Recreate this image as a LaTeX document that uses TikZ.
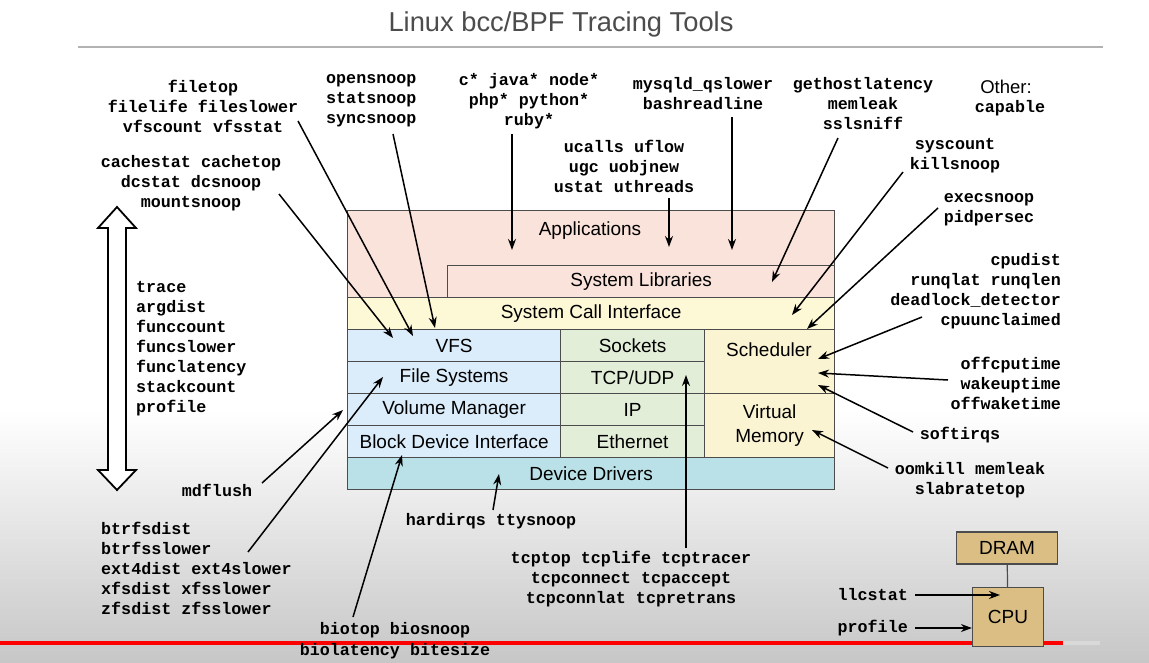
\documentclass[tikz,border=0pt]{standalone}
\usepackage{fontspec}
\setmainfont{Liberation Sans}
\newfontfamily\toolfont{Liberation Mono}
\usetikzlibrary{arrows.meta}

\definecolor{appcol}{RGB}{250,227,219}
\definecolor{sccol}{RGB}{253,248,214}
\definecolor{fscol}{RGB}{219,236,250}
\definecolor{netcol}{RGB}{227,238,217}
\definecolor{schedcol}{RGB}{251,244,211}
\definecolor{drvcol}{RGB}{186,225,231}
\definecolor{hwcol}{RGB}{218,190,131}

\tikzset{
  layer/.style={draw=black!70, line width=1.2pt, inner sep=0pt, anchor=north west,
    font=\fontsize{19}{24}\selectfont},
  txt/.style={font=\fontsize{19}{24}\selectfont, align=center, inner sep=0pt},
  tool/.style={font=\toolfont\bfseries\fontsize{16.7}{20}\selectfont, inner sep=0pt},
  probe/.style={-{Stealth[length=11pt,width=8pt]}, line width=1.5pt},
}

\begin{document}
\begin{tikzpicture}[x=1pt,y=-1pt]
\useasboundingbox (0,0) rectangle (1149,662);

% screen
\fill[white] (0,0) rectangle (1149,662);
\shade[top color=white, bottom color=black!22] (0,410) rectangle (1149,662);
\draw[red, line width=3.5pt] (0,643) -- (1063,643);
\draw[black!15, line width=3.5pt] (1063,643) -- (1100,643);

% title
\node[font=\fontsize{27.3}{30}\selectfont, text=black!70, inner sep=0pt] (title) at (561,24) {Linux bcc/BPF Tracing Tools};
\draw[black!30, line width=1.2pt] (78,47) -- (1103,47);

% kernel stack
\node[layer, fill=appcol, minimum width=487, minimum height=87] (apps) at (347,210) {};
\node[layer, fill=appcol, minimum width=387, minimum height=32] (syslib) at (447,265) {System Libraries};
\node[layer, fill=sccol, minimum width=487, minimum height=32] (syscall) at (347,297) {System Call Interface};
\foreach \n/\t [count=\i from 0] in {vfs/VFS, fsys/File Systems, vol/Volume Manager, bdi/Block Device Interface}
  \node[layer, fill=fscol, minimum width=213, minimum height=32] (\n) at (347,329+32*\i) {\t};
\foreach \n/\t [count=\i from 0] in {sock/Sockets, tcpudp/{TCP/UDP}, ip/IP, eth/Ethernet}
  \node[layer, fill=netcol, minimum width=144, minimum height=32] (\n) at (560,329+32*\i) {\t};
\node[layer, fill=schedcol, minimum width=130, minimum height=64] (sched) at (704,329) {};
\node[layer, fill=schedcol, minimum width=130, minimum height=64, align=center] (vmem) at (704,393) {Virtual\\Memory};
\node[layer, fill=drvcol, minimum width=487, minimum height=32] (drv) at (347,457) {Device Drivers};
\node[txt] (appstxt) at (590,231) {Applications};
\node[txt] (schedtxt) at (769,350) {Scheduler};

% hardware
\node[layer, fill=hwcol, anchor=center, minimum width=101, minimum height=32] (dram) at (1007,548) {DRAM};
\node[layer, fill=hwcol, anchor=center, minimum width=71, minimum height=59] (cpu) at (1008,617) {CPU};
\draw[black!70, line width=1.2pt] (dram) -- (cpu);

% tool labels
\node[tool, align=center] (ftop) at (203,106) {filetop\\filelife fileslower\\vfscount vfsstat};
\node[tool, align=center] (cstat) at (191,183) {cachestat cachetop\\dcstat dcsnoop\\mountsnoop};
\node[tool, align=left, anchor=west] (osnoop) at (326,101) {opensnoop\\statsnoop\\syncsnoop};
\node[tool, align=center] (lang) at (529,101) {c* java* node*\\php* python*\\ruby*};
\node[tool, align=center] (mysql) at (703,94) {mysqld\_qslower\\bashreadline};
\node[tool, align=center] (ghost) at (863,104) {gethostlatency\\memleak\\sslsniff};
\node[txt, font=\fontsize{18.5}{22}\selectfont] (other) at (1006,87) {Other:};
\node[tool] (cap) at (1010,108) {capable};
\node[tool, align=center] (ucalls) at (624,166) {ucalls uflow\\ugc uobjnew\\ustat uthreads};
\node[tool, align=center] (sysc) at (955,156) {syscount\\killsnoop};
\node[tool, align=center] (exec) at (989,210) {execsnoop\\pidpersec};
\node[tool, align=right, anchor=east] (cpud) at (1061,291) {cpudist\\runqlat runqlen\\deadlock\_detector\\cpuunclaimed};
\node[tool, align=right, anchor=east] (offcpu) at (1061,383) {offcputime\\wakeuptime\\offwaketime};
\node[tool] (sirq) at (960,435) {softirqs};
\node[tool, align=center] (oom) at (970,480) {oomkill memleak\\slabratetop};
\node[tool, align=left, anchor=west] (trace) at (136,349) {trace\\argdist\\funccount\\funcslower\\funclatency\\stackcount\\profile};
\node[tool] (mdf) at (217,490) {mdflush};
\node[tool, align=left, anchor=west] (btrfs) at (101,568) {btrfsdist\\btrfsslower\\ext4dist ext4slower\\xfsdist xfsslower\\zfsdist zfsslower};
\node[tool] (hirq) at (491,521) {hardirqs ttysnoop};
\node[tool, align=center] (tcp) at (631,579) {tcptop tcplife tcptracer\\tcpconnect tcpaccept\\tcpconnlat tcpretrans};
\node[tool, align=center] (bio) at (395,641) {biotop biosnoop\\[1pt]biolatency bitesize};
\node[tool, anchor=east] (llc) at (908,595) {llcstat};
\node[tool, anchor=east] (prof) at (908,628) {profile};

% tracing span
\draw[line width=1.8pt, fill=white] (117,207) -- (136,228) -- (126,228) -- (126,470) -- (136,470)
  -- (117,490) -- (98,470) -- (108,470) -- (108,228) -- (98,228) -- cycle;

% probe points
\coordinate (cstatS) at (279,194);  \coordinate (vfsA) at (393,338);
\coordinate (ftopS) at (298,121);   \coordinate (vfsB) at (413,336);
\coordinate (osnoopS) at (393,134); \coordinate (vfsC) at (435,328);
\coordinate (langS) at (512,134);   \coordinate (appA) at (512,250);
\coordinate (ucallsS) at (669,198); \coordinate (appB) at (669,247);
\coordinate (mysqlS) at (732,117);  \coordinate (appC) at (732,250);
\coordinate (ghostS) at (838,138);  \coordinate (libA) at (772,282);
\coordinate (syscS) at (903,172);   \coordinate (scA) at (792,315);
\coordinate (execS) at (938,208);   \coordinate (scB) at (807,329);
\coordinate (cpudS) at (922,317);   \coordinate (schA) at (818,359);
\coordinate (offcpuS) at (948,380); \coordinate (schB) at (818,373);
\coordinate (sirqS) at (913,432);   \coordinate (schC) at (818,385);
\coordinate (oomS) at (888,468);    \coordinate (vmA) at (812,430);
\coordinate (tcpS) at (686,548);    \coordinate (tcpA) at (686,375);
\coordinate (hirqS) at (493,510);   \coordinate (drvA) at (499,474);
\coordinate (bioS) at (353,617);    \coordinate (bdiA) at (402,455);
\coordinate (btrfsS) at (248,552);  \coordinate (fsysA) at (383,377);
\coordinate (mdfS) at (262,483);    \coordinate (volA) at (343,410);
\coordinate (cpuA) at (1000,596);

\foreach \s/\e in {cstatS/vfsA, ftopS/vfsB, osnoopS/vfsC, langS/appA, ucallsS/appB,
    mysqlS/appC, ghostS/libA, syscS/scA, execS/scB, cpudS/schA, offcpuS/schB,
    sirqS/schC, oomS/vmA, tcpS/tcpA, hirqS/drvA, bioS/bdiA, btrfsS/fsysA, mdfS/volA}
  \draw[probe] (\s) -- (\e);

\draw[probe] (llc.east) ++(7,0) -- (llc.east -| cpuA);
\draw[probe] (prof.east) ++(7,0) -- (prof.east -| cpu.west);

\end{tikzpicture}
\end{document}
